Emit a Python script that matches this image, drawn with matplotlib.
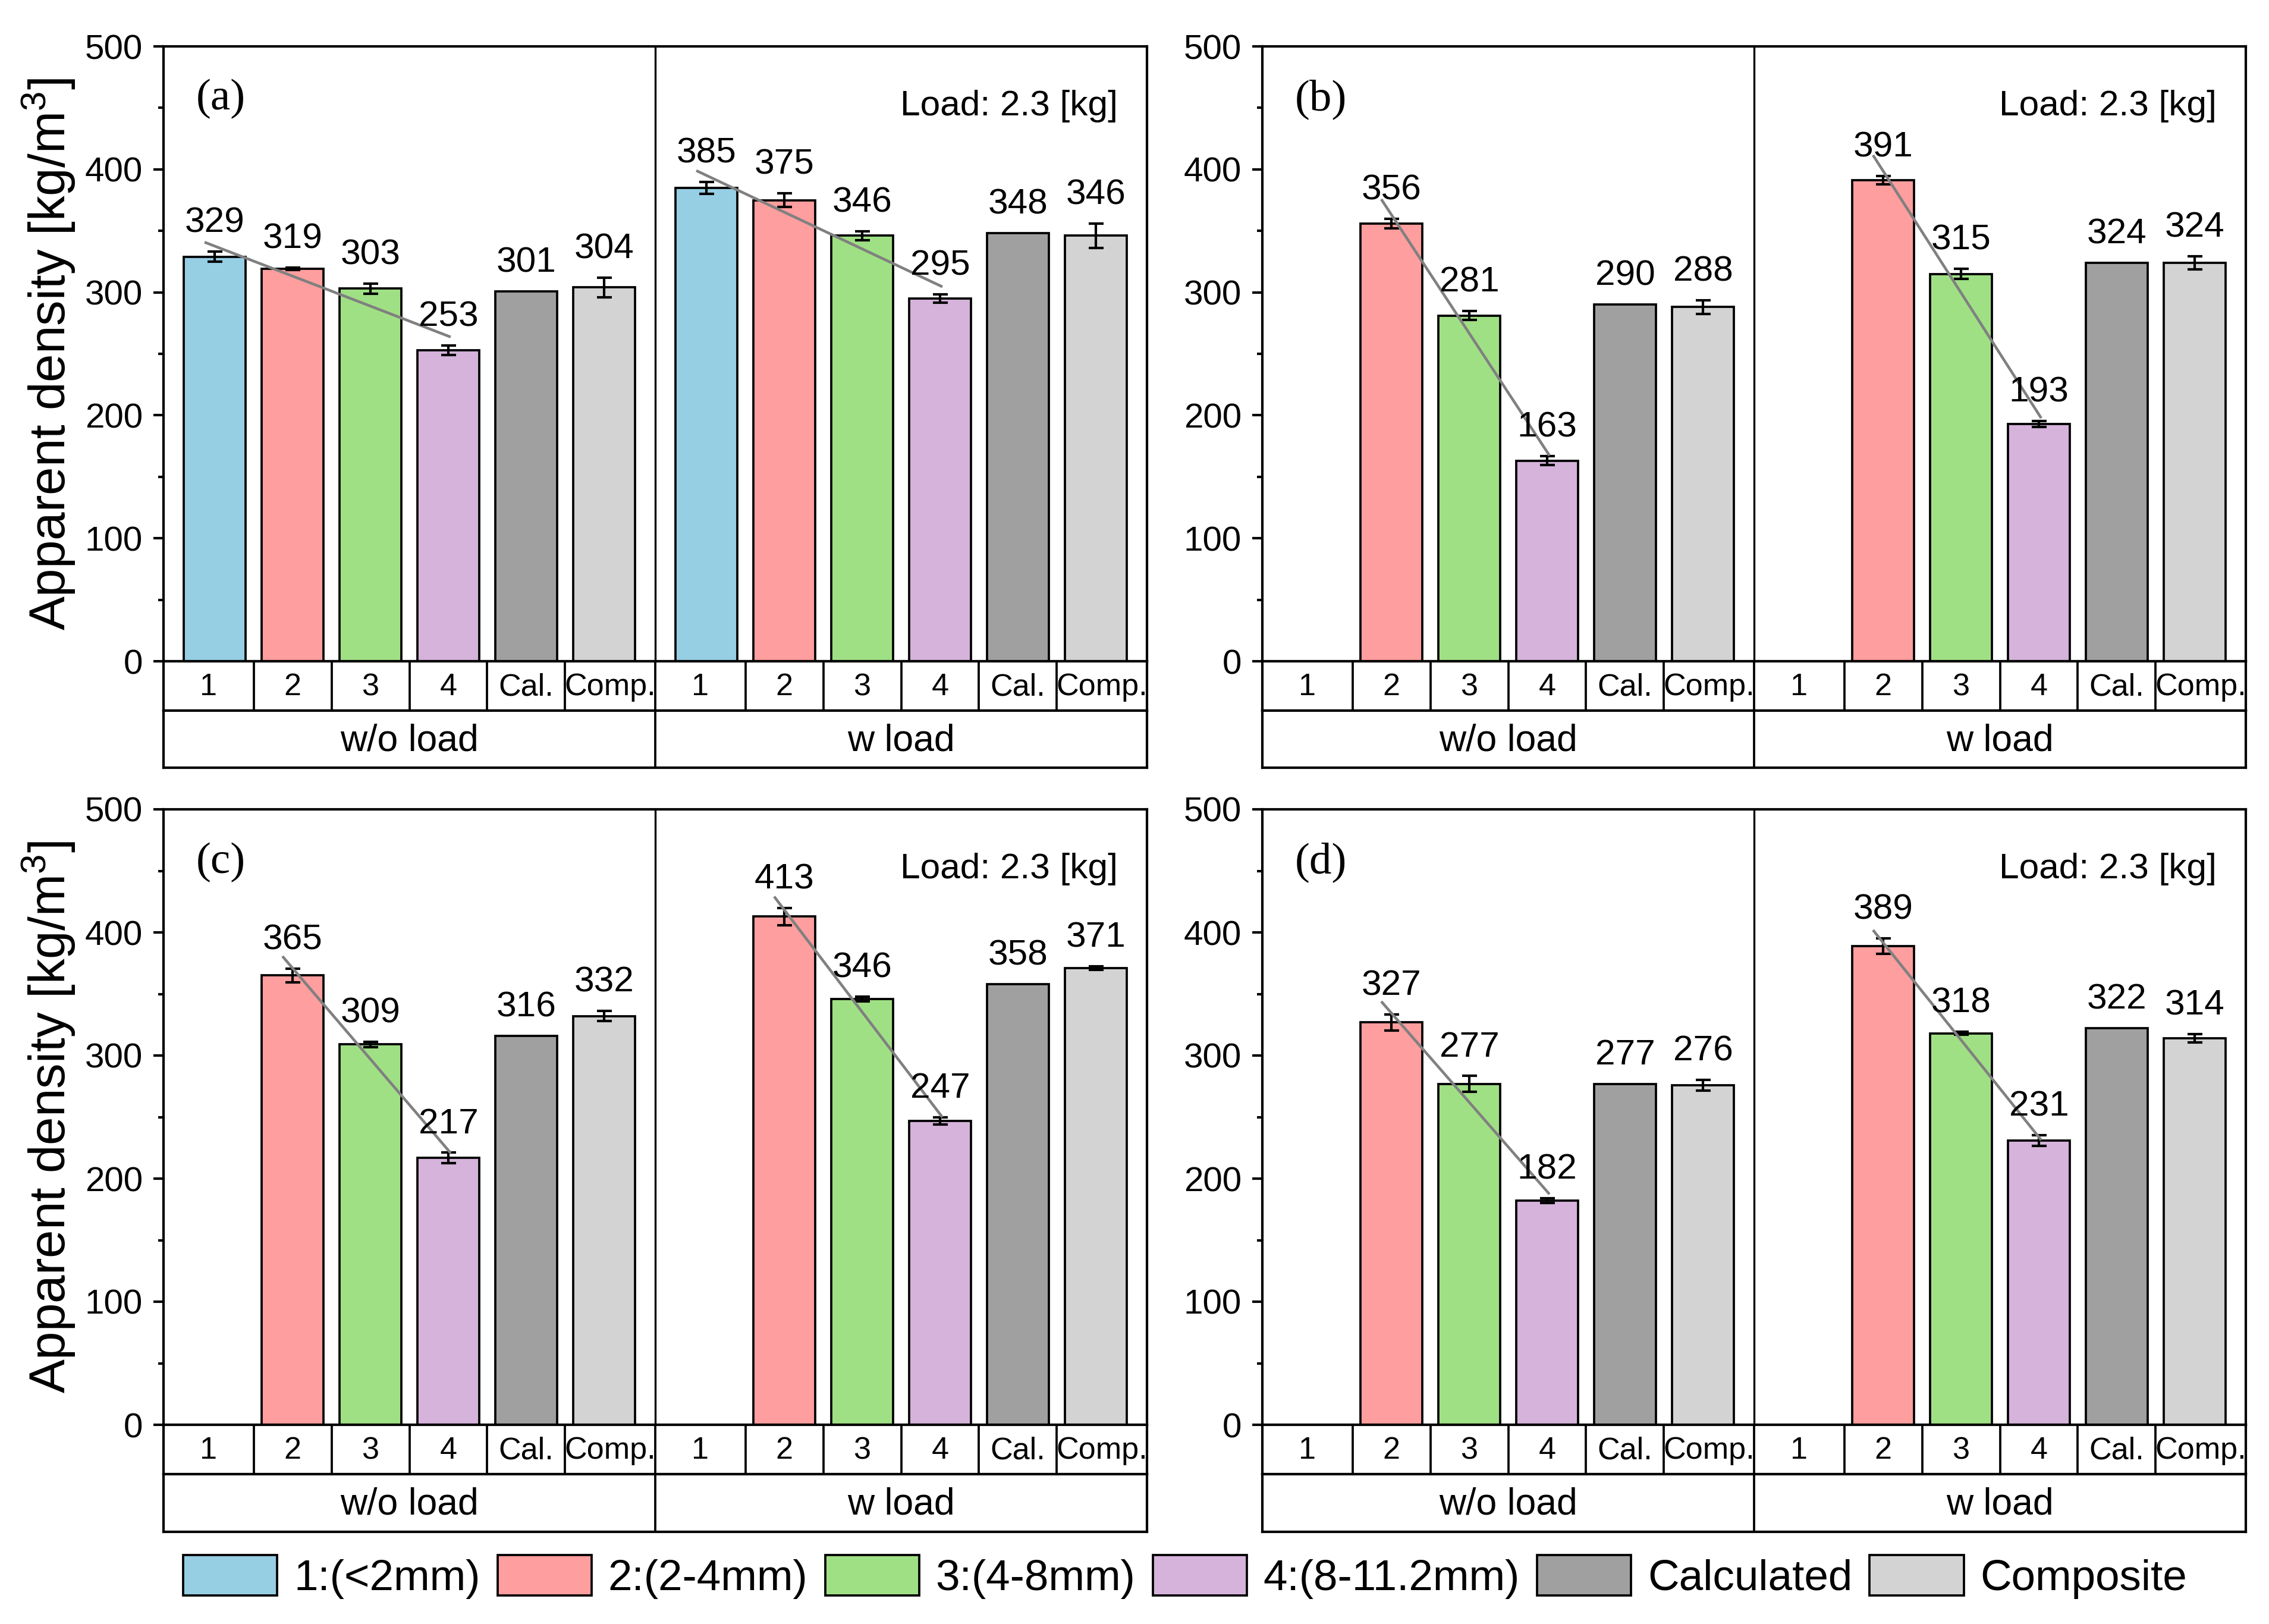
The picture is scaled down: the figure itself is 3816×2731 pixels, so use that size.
import matplotlib
matplotlib.use('Agg')
import matplotlib.pyplot as plt
import numpy as np
from matplotlib.patches import Patch
from matplotlib.ticker import MultipleLocator

plt.rcParams['font.family'] = ['Liberation Sans', 'DejaVu Sans']
plt.rcParams['mathtext.fontset'] = 'custom'
plt.rcParams['mathtext.rm'] = 'Liberation Sans'
plt.rcParams['mathtext.it'] = 'Liberation Sans:italic'
plt.rcParams['axes.linewidth'] = 1.0

nan = np.nan

# ---------------- data ----------------
categories = ['1', '2', '3', '4', 'Cal.', 'Comp.']
groups = ['w/o load', 'w load']
legend_labels = ['1:(<2mm)', '2:(2-4mm)', '3:(4-8mm)', '4:(8-11.2mm)', 'Calculated', 'Composite']
colors = ['#96CEE4', '#FF9E9E', '#A0E085', '#D5B3DA', '#A0A0A0', '#D3D3D3']
panel_letters = ['(a)', '(b)', '(c)', '(d)']
load_text = 'Load: 2.3 [kg]'

a_wo = [329, 319, 303, 253, 301, 304]
a_wo_err = [4, 1, 4.2, 4, nan, 8]
a_w = [385, 375, 346, 295, 348, 346]
a_w_err = [4.8, 5.7, 3.7, 3.2, nan, 10]

b_wo = [nan, 356, 281, 163, 290, 288]
b_wo_err = [nan, 3.8, 3.6, 3.6, nan, 5.7]
b_w = [nan, 391, 315, 193, 324, 324]
b_w_err = [nan, 3.4, 4, 2.3, nan, 5.5]

c_wo = [nan, 365, 309, 217, 316, 332]
c_wo_err = [nan, 5.5, 2, 4.2, nan, 4]
c_w = [nan, 413, 346, 247, 358, 371]
c_w_err = [nan, 7, 2, 3, nan, 1.6]

d_wo = [nan, 327, 277, 182, 277, 276]
d_wo_err = [nan, 6.5, 6.5, 2, nan, 4.4]
d_w = [nan, 389, 318, 231, 322, 314]
d_w_err = [nan, 6.2, 1.3, 4.2, nan, 3.4]

panels = [
    (a_wo, a_wo_err, a_w, a_w_err),
    (b_wo, b_wo_err, b_w, b_w_err),
    (c_wo, c_wo_err, c_w, c_w_err),
    (d_wo, d_wo_err, d_w, d_w_err),
]

# ---------------- layout ----------------
W, H = 3816, 2731
fig = plt.figure(figsize=(W / 300, H / 300), dpi=300)


def fx(px):
    return px / W


def fy(px):
    return 1 - px / H


cols = [(275, 1929), (2123, 3777)]
rows = [(78, 1112, 1195, 1291), (1361, 2396, 2479, 2576)]

ylabel = 'Apparent density [kg/m$^3$]'

pad = 0.157                      # extra space at the edge of each group
n = len(categories)
xs = np.concatenate([np.arange(1, n + 1), np.arange(1, n + 1) + n + 2 * pad])
divider = n + 0.5 + pad
xlim = (0.5 - pad, 2 * n + 0.5 + 3 * pad)
inner1 = np.arange(1.5, n, 1)
inner2 = inner1 + n + 2 * pad
cell_bounds = np.concatenate([inner1, inner2, [divider]])
edges = np.concatenate([[xlim[0]], inner1, [divider], inner2, [xlim[1]]])
cell_centers = (edges[:-1] + edges[1:]) / 2

for k, (wo, wo_e, w, w_e) in enumerate(panels):
    r, c = divmod(k, 2)
    left, right = cols[c]
    top, bot, catb, grpb = rows[r]
    ax = fig.add_axes([fx(left), fy(bot), fx(right - left), (bot - top) / H])
    cax = fig.add_axes([fx(left), fy(catb), fx(right - left), (catb - bot) / H])
    gax = fig.add_axes([fx(left), fy(grpb), fx(right - left), (grpb - catb) / H])

    vals = np.array(list(wo) + list(w), dtype=float)
    errs = np.array(list(wo_e) + list(w_e), dtype=float)
    cols12 = colors * 2

    for x, v, col in zip(xs, vals, cols12):
        if np.isfinite(v):
            ax.bar(x, v, width=0.79, color=col, edgecolor='black', linewidth=0.9, zorder=2)

    m = np.isfinite(errs) & np.isfinite(vals)
    ax.errorbar(xs[m], vals[m], yerr=errs[m], fmt='none', ecolor='black',
                elinewidth=1.0, capsize=3.0, capthick=1.0, zorder=3)

    for x, v, e in zip(xs, vals, errs):
        if np.isfinite(v):
            top_v = v + (e if np.isfinite(e) else 0)
            ax.annotate(f'{v:.0f}', (x, top_v), xytext=(0, 7.8), textcoords='offset points',
                        ha='center', va='baseline', fontsize=14.5, zorder=5)

    # trend lines over size fractions 1-4
    for off in (0, n):
        sx = xs[off:off + 4]
        sv = vals[off:off + 4]
        mm = np.isfinite(sv)
        sx, sv = sx[mm], sv[mm]
        p = np.polyfit(sx, sv, 1)
        xx = np.array([sx[0] - 0.13, sx[-1] + 0.03])
        ax.plot(xx, np.polyval(p, xx), color='#808080', lw=1.1, zorder=4, solid_capstyle='butt')

    ax.axvline(divider, color='black', lw=0.8, zorder=1)
    ax.set_xlim(*xlim)
    ax.set_ylim(0, 500)
    ax.set_xticks([])
    ax.set_yticks(np.arange(0, 501, 100))
    ax.yaxis.set_minor_locator(MultipleLocator(50))
    ax.tick_params(axis='y', which='major', direction='out', length=4.2, width=1.0,
                   pad=4.2, labelsize=14)
    ax.tick_params(axis='y', which='minor', direction='out', length=2.2, width=1.0)
    if c == 0:
        ax.set_ylabel(ylabel, fontsize=20.5, labelpad=3.0)

    ax.text(0.033, 0.914, panel_letters[k], transform=ax.transAxes, ha='left', va='center',
            fontsize=18, family=['Liberation Serif', 'DejaVu Serif'])
    ax.text(0.970, 0.888, load_text, transform=ax.transAxes, ha='right', va='baseline',
            fontsize=14.5)

    # category row
    cax.set_xlim(*xlim)
    cax.set_ylim(0, 1)
    for b in cell_bounds:
        cax.axvline(b, color='black', lw=0.9)
    for x, lab in zip(cell_centers, categories * 2):
        cax.text(x, 0.47, lab, ha='center', va='center', fontsize=12.5)
    cax.set_xticks([])
    cax.set_yticks([])

    # group row
    gax.set_xlim(*xlim)
    gax.set_ylim(0, 1)
    gax.axvline(divider, color='black', lw=0.9)
    for x, lab in zip(((xlim[0] + divider) / 2, (divider + xlim[1]) / 2), groups):
        gax.text(x, 0.47, lab, ha='center', va='center', fontsize=15)
    gax.set_xticks([])
    gax.set_yticks([])

handles = [Patch(facecolor=col, edgecolor='black', linewidth=0.9) for col in colors]
fig.legend(handles, legend_labels, loc='center', bbox_to_anchor=(0.5223, 0.029), ncol=6,
           frameon=False, fontsize=17.5, handlelength=2.17, handleheight=1.06,
           handletextpad=0.38, columnspacing=0.4, borderaxespad=0, borderpad=0)

fig.savefig('out.png', dpi=300)
